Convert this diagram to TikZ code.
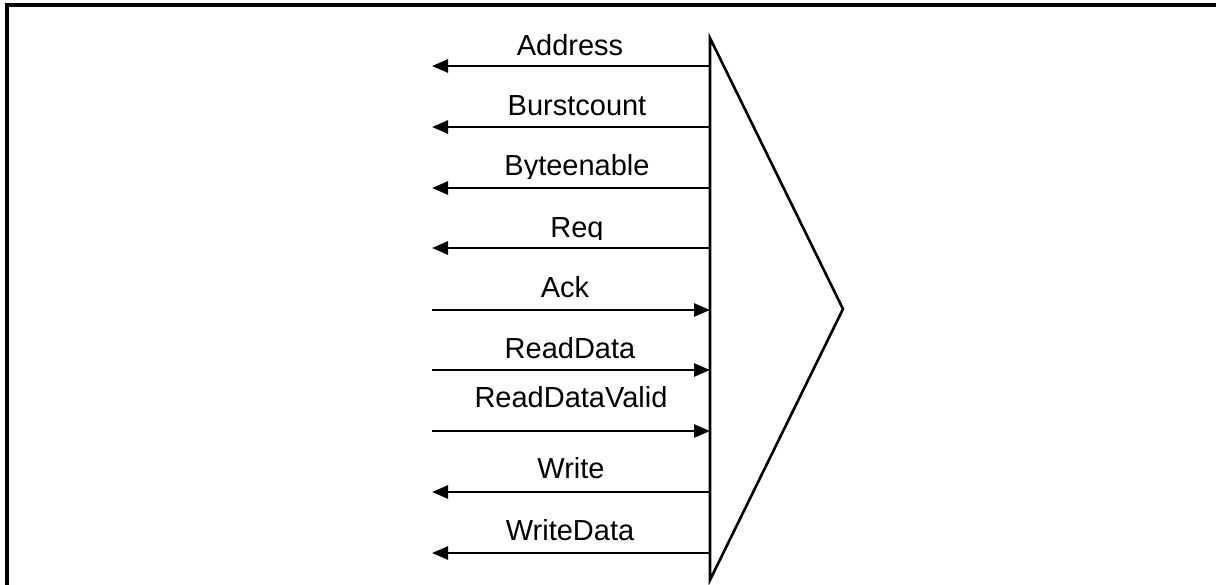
\documentclass[tikz,border=0pt]{standalone}
\usepackage{fontspec}
\setmainfont{Liberation Sans}
\usetikzlibrary{arrows.meta}
\begin{document}
\begin{tikzpicture}[x=1pt,y=-1pt,
  sig/.style={line width=2.6pt,-{Triangle[length=16pt,width=13pt]}},
  lbl/.style={anchor=base,inner sep=0pt,font=\fontsize{29}{34}\selectfont},
  frameline/.style={line width=3.2pt},
  block/.style={line width=2.6pt,line join=miter}]
\useasboundingbox (0,0) rectangle (1216,584);

% outer frame, cut by the page edges
\begin{scope}
  \clip (0,0) rectangle (1216,584);
  \draw[frameline] (7,600) -- (7,5) -- (1217.4,5) -- (1217.4,600);
\end{scope}

% interface block
\coordinate (top) at (710,38);
\coordinate (apex) at (843,309);
\coordinate (bot) at (710,580);
\draw[block] (top) -- (apex) -- (bot) -- cycle;

% port points on the block edge and free ends on the left
\foreach \n/\y in {addr/66,burst/127,byte/188,req/248,ack/310,rd/370,rdv/431,wr/492,wd/553}{
  \coordinate (p-\n) at (710,\y);
  \coordinate (e-\n) at (432,\y);
}

% outputs of the block
\draw[sig] (p-addr) -- (e-addr);
\draw[sig] (p-burst) -- (e-burst);
\draw[sig] (p-byte) -- (e-byte);
\draw[sig] (p-req) -- (e-req);
\draw[sig] (p-wr) -- (e-wr);
\draw[sig] (p-wd) -- (e-wd);
% inputs of the block
\draw[sig] (e-ack) -- (p-ack);
\draw[sig] (e-rd) -- (p-rd);
\draw[sig] (e-rdv) -- (p-rdv);

% signal names
\node[lbl] (l-addr) at (570,55) {Address};
\node[lbl] (l-burst) at (577,115) {Burstcount};
\begin{scope}
  \clip (480,140) rectangle (680,178.5);
  \node[lbl] (l-byte) at (577,175) {Byteenable};
\end{scope}
\begin{scope}
  \clip (480,200) rectangle (680,239.5);
  \node[lbl] (l-req) at (577,237) {Req};
\end{scope}
\node[lbl] (l-ack) at (565,297) {Ack};
\node[lbl] (l-rd) at (570,358) {ReadData};
\node[lbl] (l-rdv) at (571,407) {ReadDataValid};
\node[lbl] (l-wr) at (571,478) {Write};
\node[lbl] (l-wd) at (570,540) {WriteData};
\end{tikzpicture}
\end{document}
